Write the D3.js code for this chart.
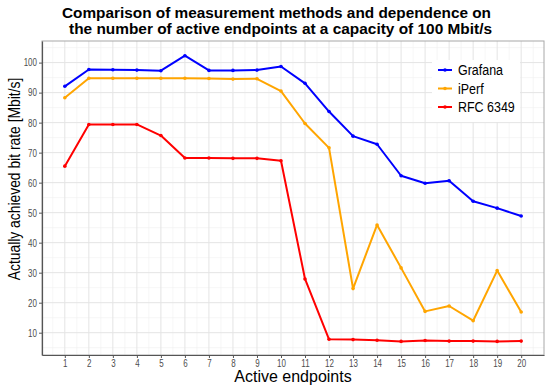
<!DOCTYPE html>
<html>
<head>
<meta charset="utf-8">
<script src="https://cdn.jsdelivr.net/npm/d3@7"></script>
<style>
  body { margin: 0; background: white; }
  text { font-family: "Liberation Sans", Arial, sans-serif; }
</style>
</head>
<body>
<script>
let endpoints = d3.range(1, 21)
let grafana = [92.1, 97.7, 97.6, 97.5, 97.3, 102.3, 97.4, 97.4, 97.5, 98.7, 93.1, 83.7, 75.5, 72.8, 62.3, 59.8, 60.6, 53.8, 51.5, 48.9]
let iperf = [88.3, 94.8, 94.8, 94.8, 94.8, 94.8, 94.7, 94.5, 94.6, 90.5, 79.7, 71.6, 24.7, 45.9, 31.6, 17.1, 18.9, 14.0, 30.7, 16.9]
let rfc = [65.5, 79.4, 79.4, 79.4, 75.7, 68.2, 68.2, 68.1, 68.1, 67.3, 27.9, 7.8, 7.7, 7.5, 7.1, 7.4, 7.2, 7.2, 7.1, 7.2]
let seriesNames = ['Grafana', 'iPerf', 'RFC 6349']
let seriesColors = ['#0000ff', '#ffa500', '#ff0000']
let yTicks = [10, 20, 30, 40, 50, 60, 70, 80, 90, 100]
let titleLines = ['Comparison of measurement methods and dependence on', 'the number of active endpoints at a capacity of 100 Mbit/s']

let width = 550, height = 390
let margin = {top: 41, right: 6, bottom: 35, left: 42}

let svg = d3.select('body').append('svg')
            .attr('width', width)
            .attr('height', height)

svg.append('rect')
   .attr('width', '100%')
   .attr('height', '100%')
   .attr('fill', 'white')

// the reference text is a bit narrower than the font, squeeze it
function squeeze(sel, factor) {
    sel.each(function() {
        let w = this.getComputedTextLength()
        d3.select(this)
          .attr('textLength', w * factor)
          .attr('lengthAdjust', 'spacingAndGlyphs')
    })
}

let x = d3.scaleLinear()
          .domain([0.05, 20.95])
          .range([margin.left, width - margin.right])

let y = d3.scaleLinear()
          .domain([2.57, 107.2])
          .range([height - margin.bottom, margin.top])

// grid
let grid = svg.append('g')
grid.selectAll('.minor-x')
    .data(d3.range(0.5, 21, 1))
    .join('line')
    .attr('x1', d => x(d)).attr('x2', d => x(d))
    .attr('y1', margin.top).attr('y2', height - margin.bottom)
    .attr('stroke', '#f0f0f0').attr('stroke-width', 0.6)
grid.selectAll('.minor-y')
    .data(d3.range(5, 106, 10))
    .join('line')
    .attr('y1', d => y(d)).attr('y2', d => y(d))
    .attr('x1', margin.left).attr('x2', width - margin.right)
    .attr('stroke', '#f0f0f0').attr('stroke-width', 0.6)
grid.selectAll('.major-x')
    .data(endpoints)
    .join('line')
    .attr('x1', d => x(d)).attr('x2', d => x(d))
    .attr('y1', margin.top).attr('y2', height - margin.bottom)
    .attr('stroke', '#e4e4e4').attr('stroke-width', 1)
grid.selectAll('.major-y')
    .data(yTicks)
    .join('line')
    .attr('y1', d => y(d)).attr('y2', d => y(d))
    .attr('x1', margin.left).attr('x2', width - margin.right)
    .attr('stroke', '#e4e4e4').attr('stroke-width', 1)

// panel border
svg.append('rect')
   .attr('x', margin.left)
   .attr('y', margin.top)
   .attr('width', width - margin.right - margin.left)
   .attr('height', height - margin.bottom - margin.top)
   .attr('fill', 'none')
   .attr('stroke', '#a8a8a8')
   .attr('stroke-width', 1)

// axes
let xAxis = svg.append('g')
               .attr('transform', `translate(0,${height - margin.bottom})`)
               .call(d3.axisBottom(x).tickValues(endpoints).tickSize(3).tickPadding(2).tickSizeOuter(0))
let yAxis = svg.append('g')
               .attr('transform', `translate(${margin.left},0)`)
               .call(d3.axisLeft(y).tickValues(yTicks).tickSize(3).tickPadding(2).tickSizeOuter(0))

for (let ax of [xAxis, yAxis]) {
    ax.select('.domain').attr('stroke', '#555').attr('stroke-width', 1.2)
    ax.selectAll('.tick line').attr('stroke', '#555')
    ax.selectAll('.tick text')
      .attr('fill', '#4d4d4d')
      .style('font-family', '"Liberation Sans", Arial, sans-serif')
      .style('font-size', '10.5px')
      .call(squeeze, 0.76)
}

// lines
let allSeries = [grafana, iperf, rfc]
let line = d3.line()
             .x((d, i) => x(endpoints[i]))
             .y(d => y(d))

allSeries.forEach((values, s) => {
    svg.append('path')
       .datum(values)
       .attr('d', line)
       .attr('fill', 'none')
       .attr('stroke', seriesColors[s])
       .attr('stroke-width', 2)
       .attr('stroke-linejoin', 'round')
    svg.append('g')
       .selectAll('circle')
       .data(values)
       .join('circle')
       .attr('cx', (d, i) => x(endpoints[i]))
       .attr('cy', d => y(d))
       .attr('r', 1.8)
       .attr('fill', seriesColors[s])
})

// legend
let legend = svg.append('g')
legend.append('rect')
      .attr('x', 432).attr('y', 60)
      .attr('width', 88).attr('height', 62)
      .attr('fill', 'white')
seriesNames.forEach((name, i) => {
    let ly = 70 + i * 18.5
    legend.append('line')
          .attr('x1', 438).attr('x2', 452)
          .attr('y1', ly).attr('y2', ly)
          .attr('stroke', seriesColors[i])
          .attr('stroke-width', 2)
    legend.append('circle')
          .attr('cx', 445).attr('cy', ly).attr('r', 1.8)
          .attr('fill', seriesColors[i])
    legend.append('text')
          .attr('x', 458).attr('y', ly + 5)
          .attr('font-size', '14px')
          .attr('fill', 'black')
          .text(name)
          .call(squeeze, 0.89)
})

// titles
let titleX = [276.5, 280.5]
let titleW = [429, 423]
titleLines.forEach((t, i) => {
    svg.append('text')
       .attr('x', titleX[i])
       .attr('y', 18 + i * 16)
       .attr('text-anchor', 'middle')
       .attr('font-size', '15px')
       .attr('font-weight', 'bold')
       .attr('fill', 'black')
       .attr('textLength', titleW[i])
       .attr('lengthAdjust', 'spacingAndGlyphs')
       .text(t)
})

svg.append('text')
   .attr('x', 293)
   .attr('y', 382)
   .attr('text-anchor', 'middle')
   .attr('font-size', '16px')
   .attr('fill', 'black')
   .text('Active endpoints')

svg.append('text')
   .attr('transform', `translate(20,${(margin.top + height - margin.bottom) / 2 - 19}) rotate(-90)`)
   .attr('text-anchor', 'middle')
   .attr('font-size', '16.5px')
   .attr('fill', 'black')
   .text('Actually achieved bit rate [Mbit/s]')
   .call(squeeze, 0.84)
</script>
</body>
</html>
